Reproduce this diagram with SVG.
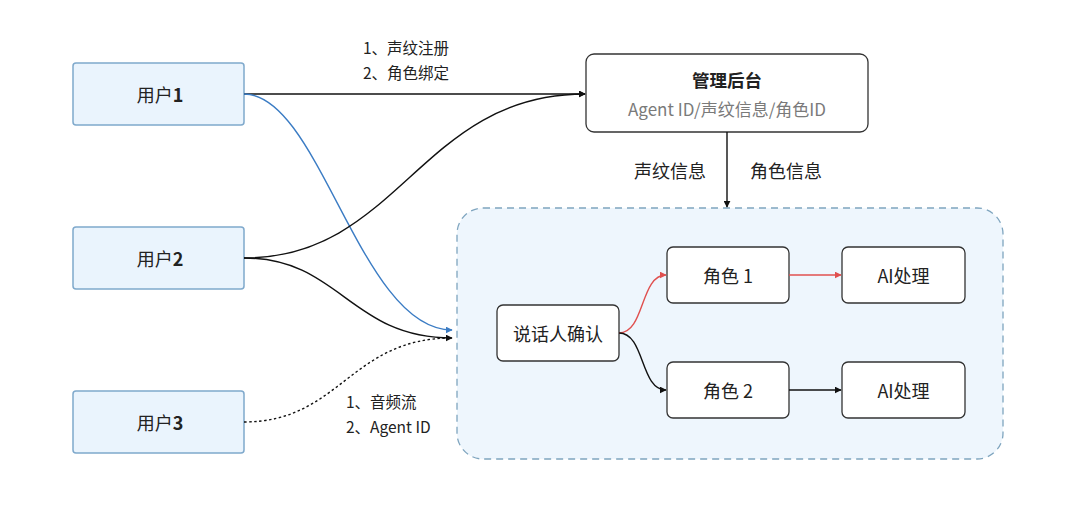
<svg xmlns="http://www.w3.org/2000/svg" width="1080" height="529" viewBox="0 0 1080 529">
<defs>
<style>
.user rect{fill:#eaf4fd;stroke:#7fa9cc;stroke-width:1.5}
.node rect{fill:#ffffff;stroke:#333333;stroke-width:1.3}
text{font-family:"Noto Sans CJK SC","Noto Sans",sans-serif;fill:#222222}
.t16{font-size:18px;text-anchor:middle;dominant-baseline:central}
.lbl{font-size:15.5px}
.lbl16{font-size:18px;text-anchor:middle;dominant-baseline:central}
.d{font-weight:bold}
.c{fill:none;stroke-width:1.4}
.k{stroke:#111111}
.b{stroke:#3b7cc4}
.r{stroke:#e0504f}
</style>
<marker id="ak" viewBox="0 0 10 10" refX="9" refY="5" markerWidth="7" markerHeight="7" markerUnits="userSpaceOnUse" orient="auto"><path d="M0,0 L10,5 L0,10 z" fill="#111111"/></marker>
<marker id="ab" viewBox="0 0 10 10" refX="9" refY="5" markerWidth="7" markerHeight="7" markerUnits="userSpaceOnUse" orient="auto"><path d="M0,0 L10,5 L0,10 z" fill="#3b7cc4"/></marker>
<marker id="ar" viewBox="0 0 10 10" refX="9" refY="5" markerWidth="7" markerHeight="7" markerUnits="userSpaceOnUse" orient="auto"><path d="M0,0 L10,5 L0,10 z" fill="#e0504f"/></marker>
</defs>
<rect width="1080" height="529" fill="#ffffff"/>

<g id="container">
<rect x="457" y="208" width="546" height="251" rx="26" fill="#eef6fd" stroke="#7fa5bf" stroke-width="1.3" stroke-dasharray="7 5"/>
</g>

<g id="user1" class="user"><rect x="73" y="63" width="171" height="62" rx="3"/><text class="t16" x="160" y="94">用户<tspan class="d">1</tspan></text></g>
<g id="user2" class="user"><rect x="73" y="227" width="171" height="62" rx="3"/><text class="t16" x="160" y="258">用户<tspan class="d">2</tspan></text></g>
<g id="user3" class="user"><rect x="73" y="391" width="171" height="62" rx="3"/><text class="t16" x="160" y="422">用户<tspan class="d">3</tspan></text></g>

<g id="admin" class="node">
<rect x="586" y="54" width="282" height="78" rx="8"/>
<text class="t16" x="727" y="79" font-weight="bold" style="font-size:17.5px">管理后台</text>
<text class="t16" x="727" y="108" style="font-size:17px;fill:#7a7a7a">Agent ID/声纹信息/角色ID</text>
</g>

<g id="speaker" class="node"><rect x="497" y="305" width="122" height="56" rx="6"/><text class="t16" x="558" y="333">说话人确认</text></g>
<g id="role1" class="node"><rect x="667" y="247" width="122" height="56" rx="6"/><text class="t16" x="728" y="275">角色 1</text></g>
<g id="ai1" class="node"><rect x="842" y="247" width="123" height="56" rx="6"/><text class="t16" x="903.5" y="275">AI处理</text></g>
<g id="role2" class="node"><rect x="667" y="362" width="122" height="56" rx="6"/><text class="t16" x="728" y="390">角色 2</text></g>
<g id="ai2" class="node"><rect x="842" y="362" width="123" height="56" rx="6"/><text class="t16" x="903.5" y="390">AI处理</text></g>

<g id="connectors">
<path class="c k" d="M244,94 L585,94" marker-end="url(#ak)"/>
<path class="c b" d="M244,94 C320,94 360,330 452,330" marker-end="url(#ab)"/>
<path class="c k" d="M244,258 C400,258 420,94 585,94" marker-end="url(#ak)"/>
<path class="c k" d="M244,258 C340,258 350,338 452,338" marker-end="url(#ak)"/>
<path class="c k" d="M244,422 C340,422 350,338 452,338" stroke-dasharray="2.5 2.5"/>
<path class="c k" d="M727,132 L727,207" marker-end="url(#ak)"/>
<path class="c r" d="M619,333 C645,333 640,275 666,275" marker-end="url(#ar)"/>
<path class="c k" d="M619,333 C645,333 640,390 666,390" marker-end="url(#ak)"/>
<path class="c r" d="M789,275 L841,275" marker-end="url(#ar)"/>
<path class="c k" d="M789,390 L841,390" marker-end="url(#ak)"/>
</g>

<g id="labels">
<text class="lbl" x="363" y="54">1、声纹注册</text>
<text class="lbl" x="363" y="79">2、角色绑定</text>
<text class="lbl16" x="670" y="170">声纹信息</text>
<text class="lbl16" x="786" y="170">角色信息</text>
<text class="lbl" x="346" y="408">1、音频流</text>
<text class="lbl" x="346" y="433">2、Agent ID</text>
</g>
</svg>
